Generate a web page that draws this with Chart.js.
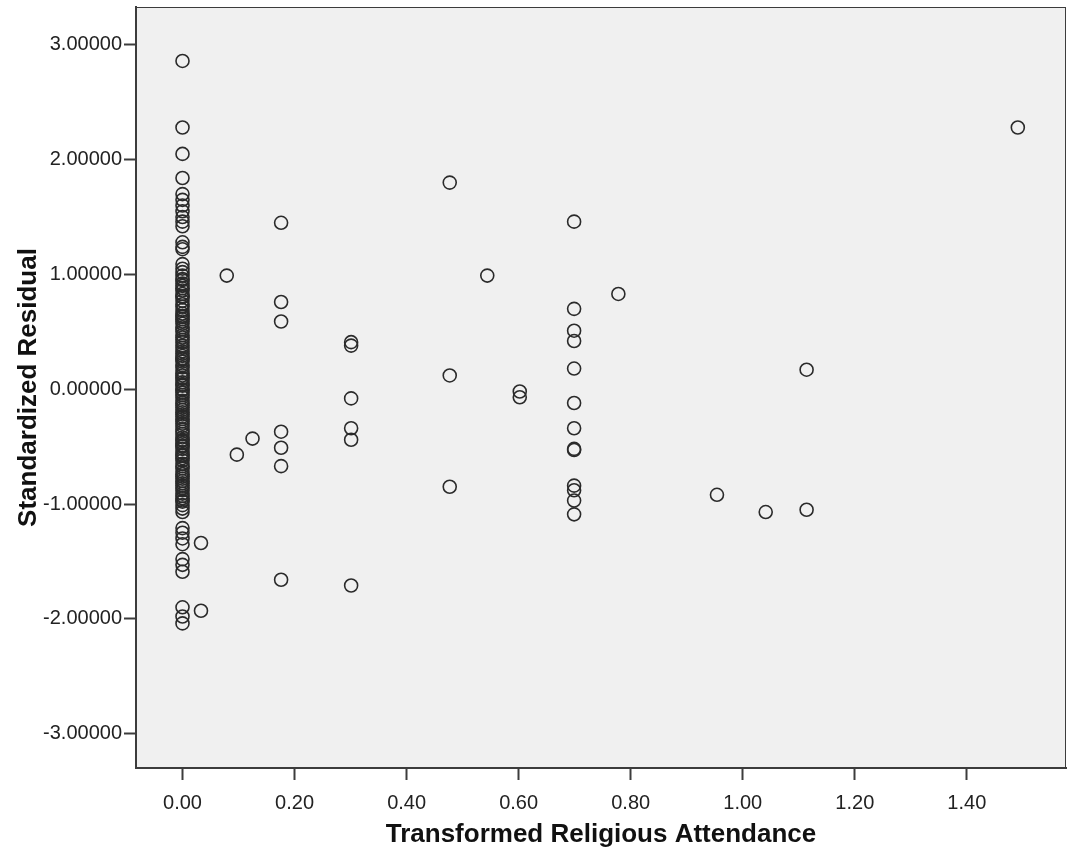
<!DOCTYPE html>
<html>
<head>
<meta charset="utf-8">
<script src="https://cdn.jsdelivr.net/npm/chart.js@4"></script>
<style>
  html, body { margin: 0; padding: 0; background: #ffffff; overflow: hidden; }
  #wrap { width: 1068px; height: 855px; }
  canvas { display: block; }
</style>
</head>
<body>
<div id="wrap"><canvas id="scatter" width="1068" height="855"></canvas></div>
<script>
// x values are log10(attendance + 1); each group shares one x
const xTicks = [0, 0.2, 0.4, 0.6, 0.8, 1.0, 1.2, 1.4];
const yTicks = [-3, -2, -1, 0, 1, 2, 3];

// residuals at x = 0 (dense column)
const zeroX = 0;
const zeroResiduals = [
  2.86, 2.28, 2.05, 1.84, 1.70, 1.65, 1.60, 1.55, 1.50, 1.46, 1.42, 1.28, 1.24, 1.22,
  1.09, 1.05, 1.02, 0.99, 0.96, 0.92, 0.90, 0.86, 0.83, 0.80, 0.77, 0.74, 0.69, 0.66,
  0.63, 0.61, 0.57, 0.54, 0.50, 0.47, 0.43, 0.41, 0.36, 0.33, 0.29, 0.26, 0.24, 0.19,
  0.16, 0.12, 0.09, 0.06, 0.03, 0.00, -0.03, -0.07, -0.10, -0.14, -0.18, -0.20, -0.24,
  -0.28, -0.32, -0.35, -0.39, -0.42, -0.45, -0.49, -0.52, -0.55, -0.58, -0.62, -0.65,
  -0.69, -0.72, -0.76, -0.80, -0.84, -0.88, -0.91, -0.95, -0.98, -1.01, -1.04, -1.07,
  -1.21, -1.25, -1.30, -1.35, -1.48, -1.53, -1.59, -1.90, -1.98, -2.04,
  0.95, 0.88, 0.81, 0.72, 0.64, 0.59, 0.52, 0.45, 0.38, 0.31, 0.27, 0.21, 0.14, 0.10,
  0.04, -0.01, -0.05, -0.12, -0.16, -0.22, -0.26, -0.30, -0.37, -0.44, -0.47, -0.50,
  -0.57, -0.60, -0.67, -0.74, -0.78, -0.82, -0.86, -0.93, -0.97
];

// the other groups: attendance x and residuals
const groupX = [0.033, 0.079, 0.097, 0.125, 0.176, 0.301, 0.477, 0.544, 0.602, 0.699, 0.778, 0.954, 1.041, 1.114, 1.491];
const groupResiduals = [
  [-1.34, -1.93],
  [0.99],
  [-0.57],
  [-0.43],
  [1.45, 0.76, 0.59, -0.37, -0.51, -0.67, -1.66],
  [0.41, 0.38, -0.08, -0.34, -0.44, -1.71],
  [1.80, 0.12, -0.85],
  [0.99],
  [-0.02, -0.07],
  [1.46, 0.70, 0.51, 0.42, 0.18, -0.12, -0.34, -0.52, -0.53, -0.84, -0.88, -0.97, -1.09],
  [0.83],
  [-0.92],
  [-1.07],
  [0.17, -1.05],
  [2.28]
];

const points = zeroResiduals.map((y) => ({ x: zeroX, y: y }));
groupX.forEach((gx, i) => {
  groupResiduals[i].forEach((y) => points.push({ x: gx, y: y }));
});

const FONT = "'Liberation Sans', Arial, sans-serif";

const plotFrame = {
  id: "plotFrame",
  beforeDraw(chart) {
    const { ctx, chartArea: a } = chart;
    ctx.save();
    ctx.fillStyle = "#f0f0f0";
    ctx.fillRect(a.left, a.top, a.right - a.left, a.bottom - a.top);
    ctx.strokeStyle = "#3c3c3c";
    ctx.lineWidth = 1;
    ctx.strokeRect(a.left + 0.5, a.top + 0.5, a.right - a.left - 1, a.bottom - a.top - 1);
    ctx.restore();
  },
};

// keep the plot box where the reference has it
function noPadding(scale) {
  scale.paddingTop = 0;
  scale.paddingBottom = 0;
  scale.paddingLeft = 0;
  scale.paddingRight = 0;
}

new Chart(document.getElementById("scatter"), {
  type: "scatter",
  data: {
    datasets: [
      {
        data: points,
        pointStyle: "circle",
        pointRadius: 6.5,
        pointHoverRadius: 6.5,
        borderWidth: 1.6,
        borderColor: "#2a2a2a",
        backgroundColor: "rgba(0,0,0,0)",
      },
    ],
  },
  options: {
    responsive: false,
    animation: false,
    events: [],
    layout: { autoPadding: false, padding: { top: 7, right: 2, left: 0, bottom: 0 } },
    plugins: { legend: { display: false }, tooltip: { enabled: false } },
    scales: {
      x: {
        type: "linear",
        min: -0.083,
        max: 1.577,
        afterFit(scale) { scale.height = 87; noPadding(scale); },
        afterBuildTicks(scale) { scale.ticks = xTicks.map((v) => ({ value: v })); },
        ticks: {
          callback: (v) => v.toFixed(2),
          font: { size: 20, family: FONT },
          color: "#222222",
          padding: 11,
        },
        grid: { drawOnChartArea: false, tickLength: 12, tickWidth: 2, tickColor: "#3c3c3c" },
        border: { color: "#3c3c3c", width: 2 },
        title: {
          display: true,
          text: "Transformed Religious Attendance",
          font: { size: 26, weight: "bold", family: FONT },
          color: "#111111",
          padding: { top: 0, bottom: 5 },
        },
      },
      y: {
        type: "linear",
        min: -3.30,
        max: 3.33,
        afterFit(scale) { scale.width = 136; noPadding(scale); },
        afterBuildTicks(scale) { scale.ticks = yTicks.map((v) => ({ value: v })); },
        ticks: {
          callback: (v) => v.toFixed(5),
          font: { size: 20, family: FONT },
          color: "#222222",
          padding: 2,
        },
        grid: { drawOnChartArea: false, tickLength: 12, tickWidth: 2, tickColor: "#3c3c3c" },
        border: { color: "#3c3c3c", width: 2 },
        title: {
          display: true,
          text: "Standardized Residual",
          font: { size: 26, weight: "bold", family: FONT },
          color: "#111111",
          padding: { top: 13, bottom: 0 },
        },
      },
    },
  },
  plugins: [plotFrame],
});
</script>
</body>
</html>
